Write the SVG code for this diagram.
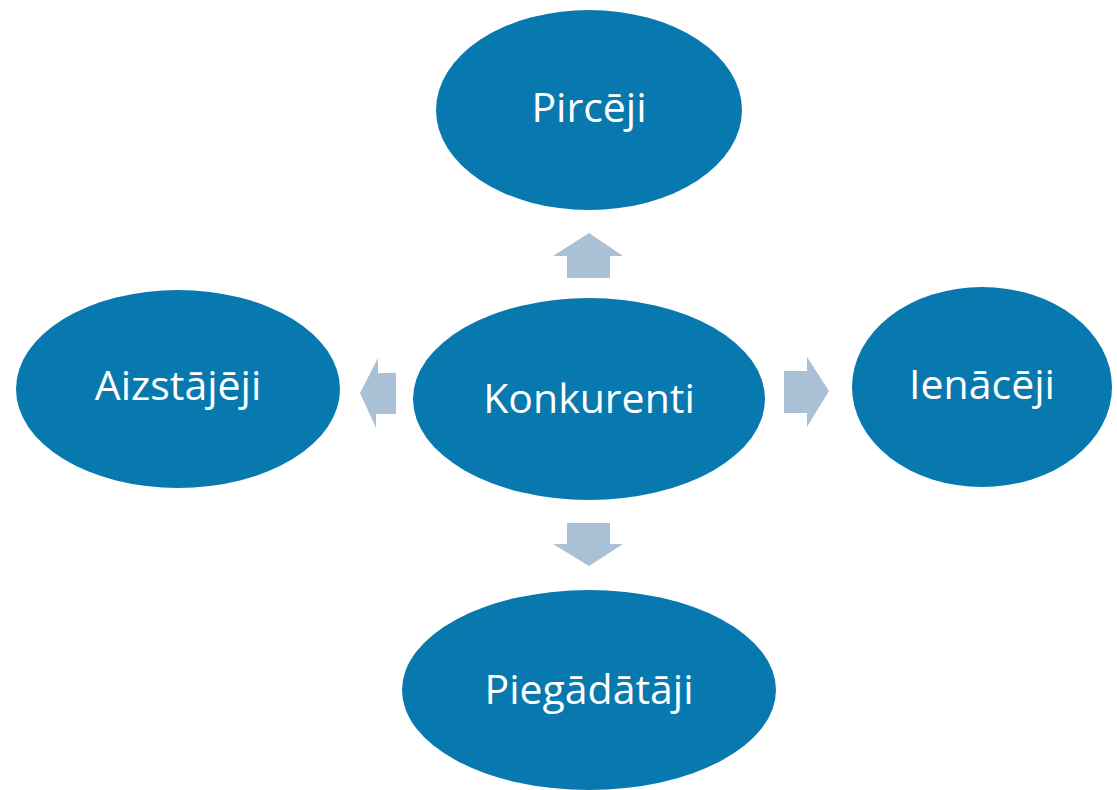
<svg xmlns="http://www.w3.org/2000/svg" width="1117" height="790" viewBox="0 0 1117 790">
<style>
.node{fill:#0779AF;}
.lbl{fill:#FFFFFF;font-family:"Open Sans","Liberation Sans",sans-serif;font-size:41px;text-anchor:middle;dominant-baseline:central;}
.arr{fill:#A9C0D5;}
</style>
<rect width="1117" height="790" fill="#FFFFFF"/>
<g id="connectors">
<polygon class="arr" points="589,233 623,256 610,256 610,278 567,278 567,256 553,256"/>
<polygon class="arr" points="589,566 623,544 610,544 610,523 567,523 567,544 553,544"/>
<polygon class="arr" points="360,393 378,358 378,373 396,373 396,414 376,414 376,428"/>
<polygon class="arr" points="829,391 807,357 807,371 784,371 784,413 807,413 807,427"/>
</g>
<g id="pirceji"><ellipse class="node" cx="589" cy="110" rx="153" ry="100"/><text class="lbl" x="589" y="106">Pircēji</text></g>
<g id="aizstajeji"><ellipse class="node" cx="178" cy="389" rx="162" ry="99"/><text class="lbl" x="178" y="384">Aizstājēji</text></g>
<g id="konkurenti"><ellipse class="node" cx="589" cy="399" rx="176" ry="101"/><text class="lbl" x="589" y="397">Konkurenti</text></g>
<g id="ienaceji"><ellipse class="node" cx="982" cy="387" rx="130" ry="100"/><text class="lbl" x="982" y="383">Ienācēji</text></g>
<g id="piegadataji"><ellipse class="node" cx="589" cy="690" rx="187" ry="100"/><text class="lbl" x="589" y="688">Piegādātāji</text></g>
</svg>
